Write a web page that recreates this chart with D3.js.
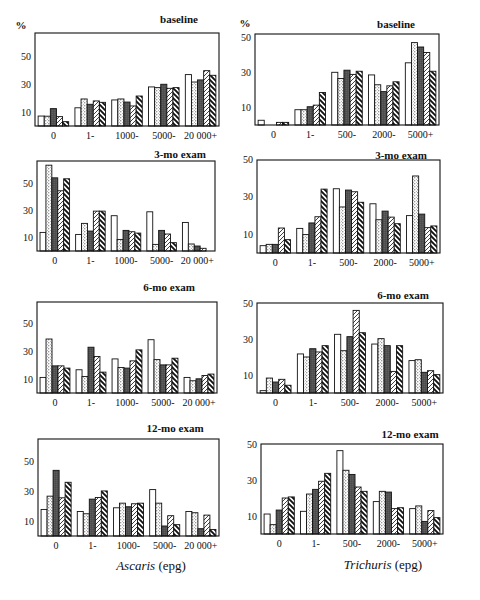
<!DOCTYPE html>
<html><head><meta charset="utf-8">
<script src="https://cdn.jsdelivr.net/npm/d3@7"></script>
<style>body{margin:0;background:#fff}</style>
</head><body>
<svg id="c" width="480" height="600"></svg>
<script>
const ascarisCategories = ["0","1-","1000-","5000-","20 000+"];
const trichurisCategories = ["0","1-","500-","2000-","5000+"];
const panelTitles = ["baseline","3-mo exam","6-mo exam","12-mo exam"];
const yTickValues = [10,30,50];
const seriesKeys = ["s1","s2","s3","s4","s5"];

// each panel: one row per category, five series values (%)
const ascarisBaseline = [[7.1,7,12.4,6.7,3.1],[13,19.3,15.5,17.9,16.9],[18.6,19.3,17.1,14.3,21.4],[27.9,27.4,29.8,26.9,27.4],[36.7,31.4,32.9,39.5,36.2]];
const ascaris3mo = [[13.8,63.7,54.3,44.7,53.6],[12.3,20.5,14.8,29.6,29.6],[26.2,8.6,15.3,14.3,13.3],[29.1,4.9,15.3,12.6,6.2],[21.2,5.2,3.7,2,0]];
const ascaris6mo = [[11.2,38.8,19.5,19.5,17.9],[16.7,11.9,32.9,26.2,15],[24.5,18.3,17.9,23.1,31],[38.3,24,20.2,20.2,25],[11.2,8.8,10.2,12.6,13.6]];
const ascaris12mo = [[17.8,26.7,44,25.6,36],[16.4,14.9,24.7,25.8,30.2],[18.9,22,19.6,21.6,22],[31.1,22,6.7,13.6,7.6],[16.4,15.6,4.9,14,4.4]];
const trichurisBaseline = [[2.7,0,0,1.5,1.5],[8.7,8.7,10.4,11.3,18.5],[30,26.5,31.2,28.8,30.6],[28.5,22.9,19,22.3,24.6],[35.4,46.9,44.4,41.3,30.6]];
const trichuris3mo = [[3.9,4.6,4.6,13.3,7.1],[13.1,9.8,16,19.3,34],[34.2,24.5,33.5,32.6,27],[26.2,17.7,22.3,19.1,15.6],[19.9,41,20.7,13.5,14.4]];
const trichuris6mo = [[1.3,8.3,6.1,7.6,4.3],[21.7,20,24.6,22.8,26.3],[32.6,23.5,31.3,45.9,33.5],[27.2,30.2,26.3,12,26.3],[18,18.5,11.5,12.4,10.2]];
const trichuris12mo = [[11.1,5.2,13.3,20,20.6],[12.6,22.2,24.8,29.3,33.7],[46.3,35.4,33.1,26.1,23.7],[18,23.7,23.3,14.1,14.6],[14.1,15.6,7,13,9.1]];

const panels = [
  {data:ascarisBaseline, cats:ascarisCategories, title:0, x0:35, x1:219, y0:33, y1:126, ymax:66.4, tx:179, ty:19, pct:[21,25]},
  {data:trichurisBaseline, cats:trichurisCategories, title:0, x0:255, x1:439, y0:34, y1:125, ymax:51.8, tx:396, ty:24, pct:[245,23]},
  {data:ascaris3mo, cats:ascarisCategories, title:1, x0:37, x1:215, y0:161, y1:251, ymax:66.8, tx:180, ty:154},
  {data:trichuris3mo, cats:trichurisCategories, title:1, x0:257, x1:440, y0:160, y1:253, ymax:49.5, tx:401, ty:155},
  {data:ascaris6mo, cats:ascarisCategories, title:2, x0:37, x1:217, y0:302, y1:393, ymax:65.4, tx:169, ty:287},
  {data:trichuris6mo, cats:trichurisCategories, title:2, x0:257, x1:443, y0:303, y1:393, ymax:50, tx:403, ty:295},
  {data:ascaris12mo, cats:ascarisCategories, title:3, x0:38, x1:219, y0:439, y1:536, ymax:65, tx:175, ty:428},
  {data:trichuris12mo, cats:trichurisCategories, title:3, x0:261, x1:443, y0:444, y1:534, ymax:50, tx:410, ty:434}
];

const svg = d3.select("#c");
const defs = svg.append("defs");
// stipple
let p = defs.append("pattern").attr("id","p2").attr("patternUnits","userSpaceOnUse").attr("width",3).attr("height",3);
p.append("rect").attr("width",3).attr("height",3).attr("fill","#fff");
p.append("circle").attr("cx",0.8).attr("cy",0.8).attr("r",0.55).attr("fill","#222");
p.append("circle").attr("cx",2.3).attr("cy",2.3).attr("r",0.45).attr("fill","#555");
// dark crosshatch
p = defs.append("pattern").attr("id","p3").attr("patternUnits","userSpaceOnUse").attr("width",2).attr("height",2);
p.append("rect").attr("width",2).attr("height",2).attr("fill","#404040");
p.append("rect").attr("x",0.5).attr("y",0.5).attr("width",0.8).attr("height",0.8).attr("fill","#b8b8b8");
// thin hatch "/"
p = defs.append("pattern").attr("id","p4").attr("patternUnits","userSpaceOnUse").attr("width",4).attr("height",4);
p.append("rect").attr("width",4).attr("height",4).attr("fill","#fff");
p.append("path").attr("d","M-1,1 L1,-1 M0,4 L4,0 M3,5 L5,3").attr("stroke","#111").attr("stroke-width",0.8);
// bold hatch "\"
p = defs.append("pattern").attr("id","p5").attr("patternUnits","userSpaceOnUse").attr("width",5).attr("height",5);
p.append("rect").attr("width",5).attr("height",5).attr("fill","#fff");
p.append("path").attr("d","M-1,4 L1,6 M0,0 L5,5 M4,-1 L6,1").attr("stroke","#111").attr("stroke-width",1.9);

const fills = ["#fff","url(#p2)","url(#p3)","url(#p4)","url(#p5)"];
const serif = "'Liberation Serif','DejaVu Serif',serif";

panels.forEach(pn => {
  const g = svg.append("g");
  const x = d3.scaleBand().domain(pn.cats).range([pn.x0,pn.x1]).paddingInner(0.17).paddingOuter(0.085);
  const xs = d3.scaleBand().domain(seriesKeys).range([0,x.bandwidth()]);
  const y = d3.scaleLinear().domain([0,pn.ymax]).range([pn.y1,pn.y0]);

  pn.cats.forEach((c,i) => {
    const vals = pn.data[i].map((v,j)=>({v, j})).filter(d=>d.v>0);
    g.selectAll(null).data(vals).enter().append("rect")
      .attr("x",d=>x(c)+xs(seriesKeys[d.j]))
      .attr("y",d=>y(d.v))
      .attr("width",xs.bandwidth())
      .attr("height",d=>y(0)-y(d.v))
      .attr("fill",d=>fills[d.j])
      .attr("stroke","#111").attr("stroke-width",0.9);
  });
  g.append("rect").attr("x",pn.x0).attr("y",pn.y0).attr("width",pn.x1-pn.x0).attr("height",pn.y1-pn.y0)
    .attr("fill","none").attr("stroke","#111").attr("stroke-width",1.1);

  const ya = d3.axisLeft(y).tickValues(yTickValues).tickSize(0).tickPadding(4);
  const ay = g.append("g").attr("transform",`translate(${pn.x0},0)`).call(ya);
  ay.select(".domain").remove();
  ay.selectAll("text").attr("font-family",serif).attr("font-size",10).attr("fill","#111");

  const xa = d3.axisBottom(x).tickSize(0).tickPadding(6);
  const ax = g.append("g").attr("transform",`translate(0,${pn.y1})`).call(xa);
  ax.select(".domain").remove();
  ax.selectAll("text").attr("font-family",serif).attr("font-size",10).attr("fill","#111");

  g.append("text").attr("x",pn.tx).attr("y",pn.ty+4).attr("text-anchor","middle")
    .attr("font-family",serif).attr("font-weight","bold").attr("font-size",11).attr("fill","#111")
    .text(panelTitles[pn.title]);
  if (pn.pct) g.append("text").attr("x",pn.pct[0]).attr("y",pn.pct[1]+4).attr("text-anchor","middle")
    .attr("font-family",serif).attr("font-weight","bold").attr("font-size",11).attr("fill","#111").text("%");
});

function axisTitle(cx, cy, italic){
  const t = svg.append("text").attr("x",cx).attr("y",cy+4.5).attr("text-anchor","middle")
    .attr("font-family",serif).attr("font-size",13).attr("fill","#111");
  t.append("tspan").attr("font-style","italic").text(italic);
  t.append("tspan").text(" (epg)");
}
axisTitle(151,565,"Ascaris");
axisTitle(383,564,"Trichuris");
</script>
</body></html>
